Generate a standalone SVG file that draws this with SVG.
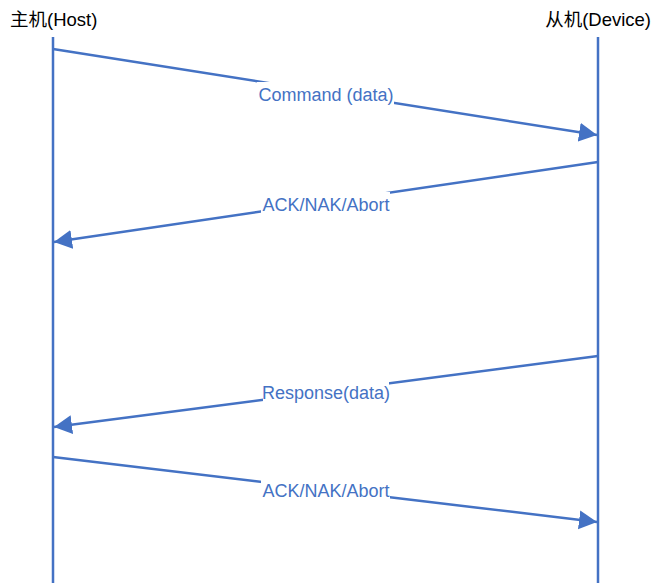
<svg xmlns="http://www.w3.org/2000/svg" width="654" height="583" viewBox="0 0 654 583">
<style>
.life{stroke:#4472C4;stroke-width:2.5;fill:none}
.msg{stroke:#4472C4;stroke-width:2.5;fill:none;marker-end:url(#ah)}
.lbl{font-family:"Liberation Sans","Noto Sans CJK SC",sans-serif;font-size:18px;fill:#4472C4;text-anchor:middle}
.title{font-family:"Liberation Sans","Noto Sans CJK SC",sans-serif;font-size:18.5px;fill:#000}
.bg{fill:#fff}
</style>
<defs>
<marker id="ah" markerUnits="userSpaceOnUse" markerWidth="20" markerHeight="20" refX="18" refY="9.5" orient="auto" viewBox="0 0 20 20">
<path d="M0,0 L18,9.5 L0,19 Z" fill="#4472C4"/>
</marker>
</defs>
<rect width="654" height="583" fill="#fff"/>
<g id="host">
<text class="title" x="10" y="26">主机(Host)</text>
<line class="life" x1="53" y1="37" x2="53" y2="583"/>
</g>
<g id="device">
<text class="title" x="651" y="26" text-anchor="end">从机(Device)</text>
<line class="life" x1="598" y1="37" x2="598" y2="583"/>
</g>
<g id="connectors">
<g id="m1">
<line class="msg" x1="53" y1="49" x2="597" y2="135"/>
<rect class="bg" x="257" y="82" width="137" height="23"/>
<text class="lbl" x="326" y="101">Command (data)</text>
</g>
<g id="m2">
<line class="msg" x1="598" y1="162" x2="54" y2="242"/>
<rect class="bg" x="261" y="192" width="129" height="23"/>
<text class="lbl" x="326" y="211">ACK/NAK/Abort</text>
</g>
<g id="m3">
<line class="msg" x1="598" y1="356" x2="54" y2="427"/>
<rect class="bg" x="263" y="380" width="126" height="23"/>
<text class="lbl" x="326" y="399">Response(data)</text>
</g>
<g id="m4">
<line class="msg" x1="53" y1="457" x2="597" y2="522"/>
<rect class="bg" x="261" y="478" width="129" height="23"/>
<text class="lbl" x="326" y="497">ACK/NAK/Abort</text>
</g>
</g>
</svg>
